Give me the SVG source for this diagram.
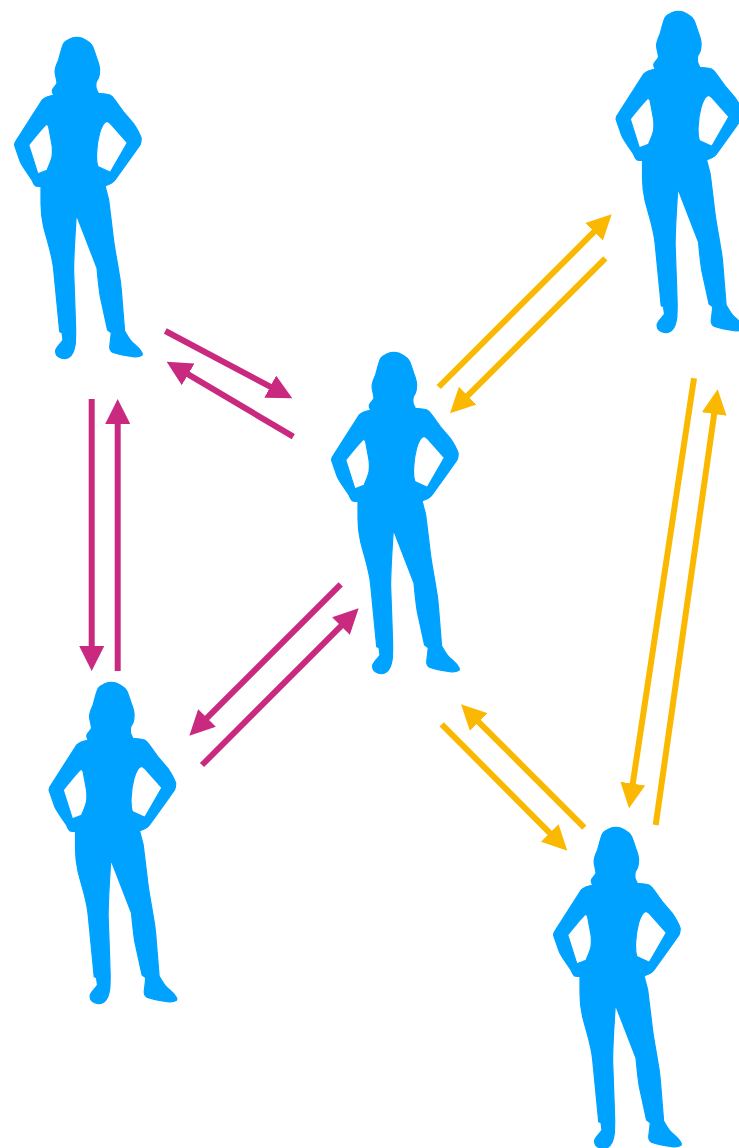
<svg xmlns="http://www.w3.org/2000/svg" width="739" height="1148" viewBox="0 0 739 1148">
<style>
.fig{fill:#00a2ff;fill-rule:evenodd;stroke:#00a2ff;stroke-width:1.2;stroke-linejoin:round}
.pink{stroke:#c92a7f;stroke-width:6;fill:none;marker-end:url(#hp)}
.gold{stroke:#fab900;stroke-width:6;fill:none;marker-end:url(#hg)}
</style>
<defs>
<marker id="hp" markerUnits="userSpaceOnUse" markerWidth="25" markerHeight="25" viewBox="0 0 25 25" refX="1" refY="12.5" orient="auto"><path d="M0 0L25 12.5L0 25z" fill="#c92a7f"/></marker>
<marker id="hg" markerUnits="userSpaceOnUse" markerWidth="25" markerHeight="25" viewBox="0 0 25 25" refX="1" refY="12.5" orient="auto"><path d="M0 0L25 12.5L0 25z" fill="#fab900"/></marker>
<path id="woman" class="fig" d="M77.3 37.3C81 37.3 84 38.8 86.5 40.5C90 42.5 91.5 44 92.7 46.7C94 50 95.5 54.5 96.7 58.3C98.3 62.5 99.6 66.5 99.6 70C99.6 73.5 99.3 75.5 98.3 78.3C97 80.5 96 81.5 96 83.3C95.7 85.5 96 86.5 96 88C96.5 90 97.5 91.5 98.3 93.3C102 94 106.5 93.5 110 95C112 96 113.5 98 115 100L123.3 111.7L133.3 123.3C136.5 128 139.5 133 141.2 138.3C141.2 141 141 143 140 145L131.7 156.7L115 180C112 184 109 184.5 105 185.7L108.7 200C110 211 111.5 222 112.7 233C114 246 117 260 119 273C120.2 279 120.8 284 121.3 290L124.6 331C127 335 129 339 131.7 341.7C135 345 139 348 141.3 351.7C142.3 353 142.6 354.3 142 355.3C139 357 136 357 133 356.6C126 355.6 119 354.6 113 352.4C110.8 351.3 109.7 349.5 109.7 346.7L111.3 332.7L107.6 330L100.3 296.7C98.8 287 97.8 277 97 268L76.3 214.5C75.3 232 73.8 251 73.6 270C74.3 290 75.2 311 75.7 331.7L75.4 343C74.8 347 74.2 350.5 72.7 353C71 356.2 69 358.4 65 358.6C61.7 358.6 58.8 357.7 57 355.7C55.8 354 55.4 352 55.7 350C57.4 346 60.8 343.7 63 340L62 332.7L59.7 331.7L53.7 270C52.4 255 46.8 240 43.6 226.7C41.8 219 41 211 41 203L41 186.3C38.7 186.5 36.7 186.9 35.3 185.8C33.8 184.3 32.8 182 32 180C28.3 174 23.3 168 20.3 161.7L14.5 145C14.5 143 15.2 141.7 16.4 140.3L42 100.2C45.2 96.9 49.2 95.8 53.6 95.3C52.8 93 51.9 91.5 52.4 90C53.4 87.7 55.8 86.1 57 83.3C56.8 79 55.1 75.5 55.1 71.7C55.1 67 57.1 63.5 58.6 60C60.3 54.5 61.3 48.8 63.6 43.6C65.3 41.3 67.7 39.8 70.2 38.7C72.6 37.7 75 37.3 77.3 37.3Z
M45.8 124.8C47 124.6 48.2 125.2 48.6 126.5L52 145C52.6 149 52.5 153 52 156.7C51.1 161.5 48.8 165.8 47 170.4L37.9 173.9L28.7 145C34.2 138.2 39.7 131 45.8 124.8Z
M106.9 121.4C108 121.5 109 122.3 110 123.2L127.3 142.7L110.3 172.3L97.8 166.5C96.5 162.2 96.4 157.6 96.6 153.3C96.9 146.3 97.9 139.3 99.6 133.2C101.1 128.2 103.4 121.9 106.9 121.4Z"/>
</defs>
<g id="connectors">
<path class="pink" d="M165.3 331L271.1 387.1"/>
<path class="pink" d="M293.3 436.7L187.3 373.9"/>
<path class="pink" d="M91.7 399V647"/>
<path class="pink" d="M117.7 671V423"/>
<path class="pink" d="M340.7 584.3L206.3 718.7"/>
<path class="pink" d="M202 765L341.7 625.3"/>
<path class="gold" d="M438.7 387L594.7 231.2"/>
<path class="gold" d="M605.3 258.3L467 396.4"/>
<path class="gold" d="M694 378.3L632.6 784.6"/>
<path class="gold" d="M655.7 825L714.3 413.1"/>
<path class="gold" d="M441.7 724.3L550.4 833.7"/>
<path class="gold" d="M584.3 827.7L478 721.3"/>
</g>
<g id="person-top-left"><use href="#woman"/></g>
<g id="person-top-right"><use href="#woman" x="601.5" y="-26"/></g>
<g id="person-center"><use href="#woman" x="317" y="315"/></g>
<g id="person-bottom-left"><use href="#woman" x="34.5" y="645"/></g>
<g id="person-bottom-right"><use href="#woman" x="539" y="790"/></g>
</svg>
